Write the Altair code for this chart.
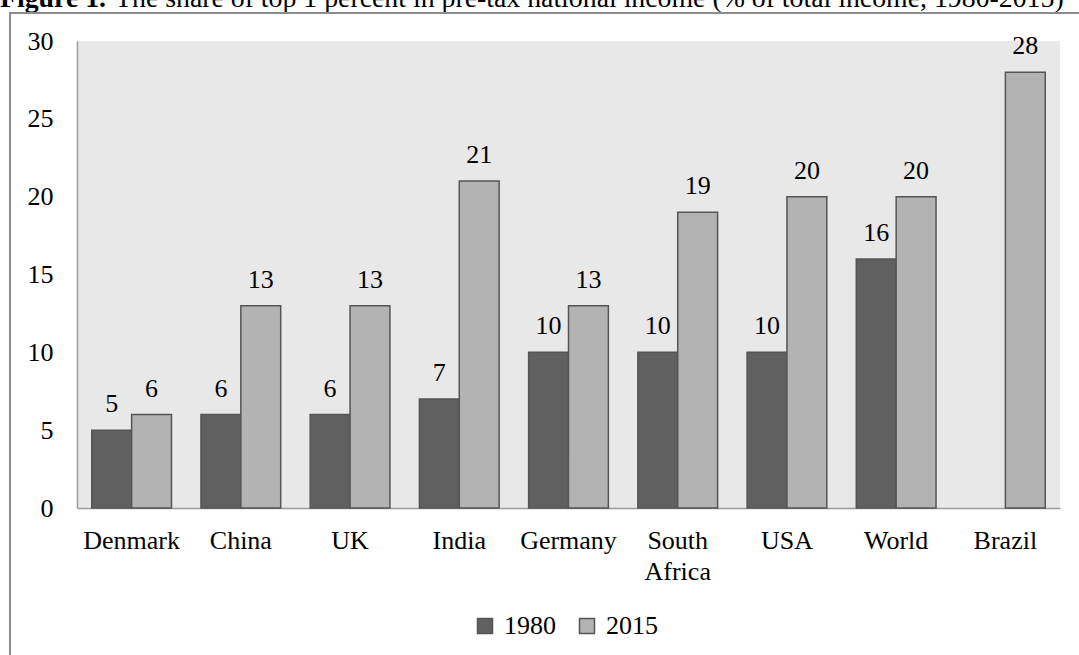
import altair as alt
import pandas as pd

countries = ["Denmark", "China", "UK", "India", "Germany", "South Africa", "USA", "World", "Brazil"]
years = ["1980", "2015"]
share_1980 = [5, 6, 6, 7, 10, 10, 10, 16, None]
share_2015 = [6, 13, 13, 21, 13, 19, 20, 20, 28]
y_ticks = [0, 5, 10, 15, 20, 25, 30]
title_bold = "Figure 1."
title_rest = "The share of top 1 percent in pre-tax national income (% of total income, 1980-2015)"

rows = []
for c, a, b in zip(countries, share_1980, share_2015):
    if a is not None:
        rows.append({"country": c, "year": "1980", "value": a})
    if b is not None:
        rows.append({"country": c, "year": "2015", "value": b})
df = pd.DataFrame(rows)

FONT = "Liberation Serif"
W, H = 983, 467

x = alt.X(
    "country:N", sort=countries,
    scale=alt.Scale(paddingInner=0.27, paddingOuter=0.135),
    axis=alt.Axis(
        title=None, labelAngle=0, labelFont=FONT, labelFontSize=26, labelColor="black",
        ticks=False, domainColor="#9a9a9a", domainWidth=1.5, labelPadding=19,
        labelBaseline="top", labelLineHeight=31,
        labelExpr="datum.label == 'South Africa' ? ['South', 'Africa'] : datum.label",
    ),
)
xo = alt.XOffset("year:N", sort=years, scale=alt.Scale(paddingInner=0, paddingOuter=0))
y = alt.Y(
    "value:Q",
    scale=alt.Scale(domain=[0, 30], nice=False),
    axis=alt.Axis(
        title=None, values=y_ticks, grid=False, ticks=False, labelPadding=24,
        labelFont=FONT, labelFontSize=26, labelColor="black",
        domainColor="#9a9a9a", domainWidth=1.5,
    ),
)
color = alt.Color(
    "year:N",
    scale=alt.Scale(domain=years, range=["#606060", "#b3b3b3"]),
    legend=alt.Legend(
        title=None, orient="none", legendX=395, legendY=572, direction="horizontal",
        symbolType="square", symbolSize=225, symbolStrokeColor="#555555",
        symbolStrokeWidth=1.5, symbolOpacity=1, labelFont=FONT, labelFontSize=26,
        labelColor="black", columnPadding=18, labelOffset=6,
    ),
)

base = alt.Chart(df)
bars = base.mark_bar(stroke="#555555", strokeWidth=1.5, opacity=1).encode(
    x=x, xOffset=xo, y=y, color=color
)
labels = base.mark_text(
    dy=-18, baseline="alphabetic", font=FONT, fontSize=26, color="black"
).encode(x=x, xOffset=xo, y=y, text=alt.Text("value:Q"))

tb = alt.Chart(pd.DataFrame({"t": [title_bold]})).mark_text(
    align="left", baseline="alphabetic", font=FONT, fontSize=27.8, fontWeight="bold", color="black"
).encode(x=alt.value(-77), y=alt.value(-34), text="t:N")
tr = alt.Chart(pd.DataFrame({"t": [title_rest]})).mark_text(
    align="left", baseline="alphabetic", font=FONT, fontSize=27.8, color="black"
).encode(x=alt.value(-77 + 115), y=alt.value(-34), text="t:N")

one = pd.DataFrame({"k": [0]})
left_border = alt.Chart(one).mark_rule(color="#8c8c8c", strokeWidth=2).encode(
    x=alt.value(-67), y=alt.value(-28), y2=alt.value(H + 150)
)
top_border = alt.Chart(one).mark_rule(color="#8c8c8c", strokeWidth=2).encode(
    x=alt.value(-68), x2=alt.value(W + 30), y=alt.value(-28)
)

chart = alt.layer(bars, labels, tb, tr, left_border, top_border).properties(
    width=W, height=H,
    padding={"left": 77, "top": 41, "right": 19, "bottom": 147},
    autosize=alt.AutoSizeParams(type="none"),
    background="white",
).configure(font=FONT).configure_view(fill="#e8e8e8", stroke="transparent", strokeWidth=0)

chart.save("out.html", embed_options={"renderer": "svg", "actions": False})
